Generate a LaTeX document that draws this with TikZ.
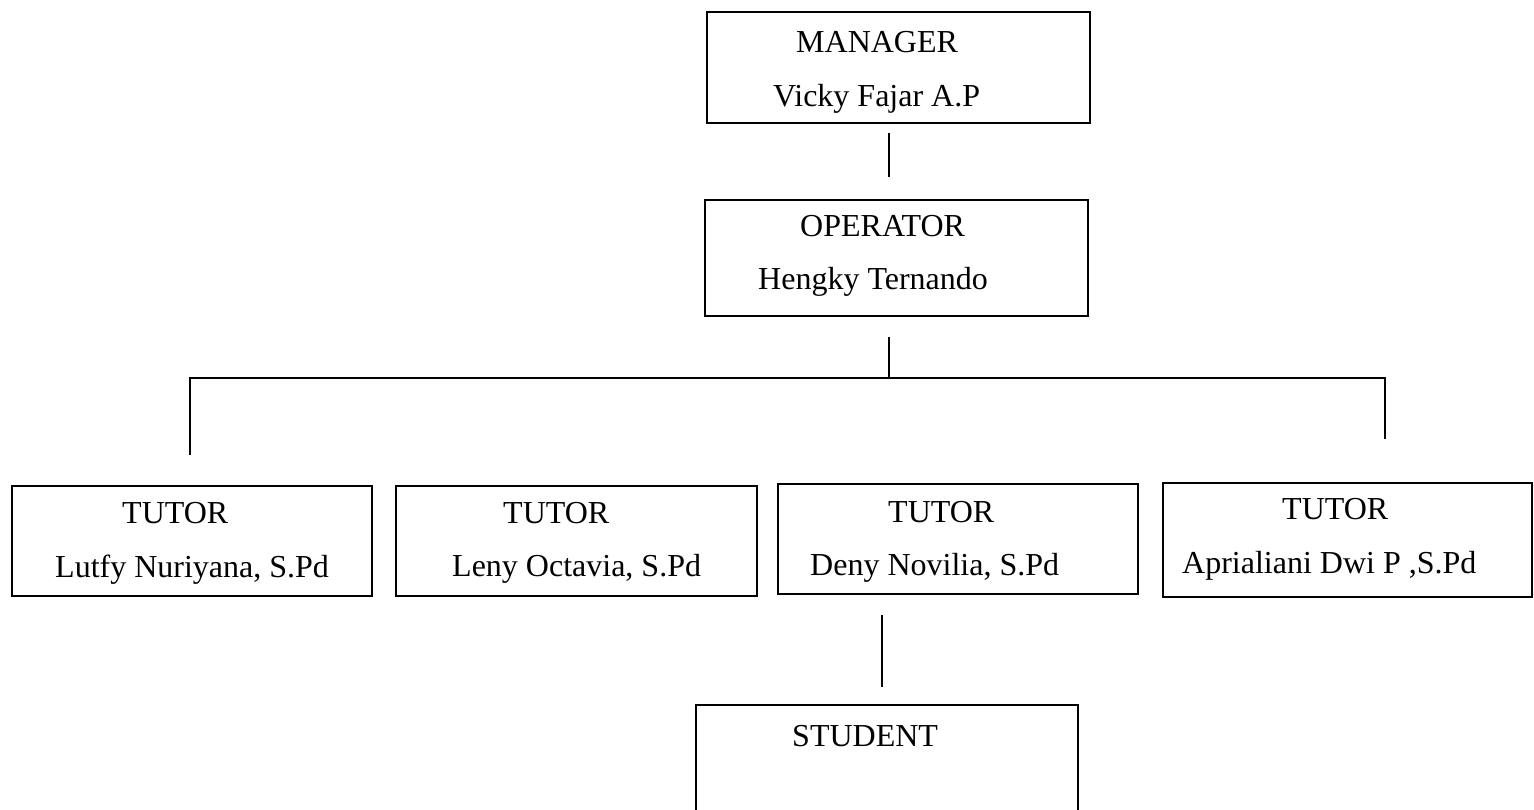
\documentclass[tikz,border=0pt]{standalone}
\usepackage{fontspec}
\setmainfont{Liberation Serif}

\begin{document}
\begin{tikzpicture}[x=1pt,y=-1pt,
	box/.style={draw, line width=1.8pt, inner sep=0pt},
	txt/.style={anchor=base west, inner sep=0pt, font=\fontsize{32}{38}\selectfont},
	conn/.style={line width=1.8pt}]

\clip (0,0) rectangle (1534,810);

% top of the chart
\node[box, minimum width=383pt, minimum height=111pt] (manager) at (898.5,67.5) {};
\node[txt] (manager-role) at (796,53) {MANAGER};
\node[txt] (manager-name) at (773,107) {Vicky Fajar A.P};

\node[box, minimum width=383pt, minimum height=116pt] (operator) at (896.5,258) {};
\node[txt] (operator-role) at (800,237) {OPERATOR};
\node[txt] (operator-name) at (758,290) {Hengky Ternando};

% tutors
\foreach \i/\cx/\cy/\w/\h/\tx/\ty/\nx/\ny/\who in {
	1/192/541/360/110/122/523/55/577/{Lutfy Nuriyana, S.Pd},
	2/576.5/541/361/110/503/523/452/576/{Leny Octavia, S.Pd},
	3/958/539/360/110/888/522/810/575/{Deny Novilia, S.Pd},
	4/1347.5/540/369/114/1282/519/1182/573/{Aprialiani Dwi P ,S.Pd}}{
	\node[box, minimum width=\w pt, minimum height=\h pt] (tutor\i) at (\cx,\cy) {};
	\node[txt] (tutor\i-role) at (\tx,\ty) {TUTOR};
	\node[txt] (tutor\i-name) at (\nx,\ny) {\who};
}

\node[box, minimum width=382pt, minimum height=140pt] (student) at (887,775) {};
\node[txt] (student-role) at (792,746) {STUDENT};

% lines
\coordinate (mgr-stem) at (889,133);
\coordinate (op-top) at (889,177);
\coordinate (op-stem) at (889,337);
\coordinate (bar-mid) at (889,378);
\coordinate (bar-left) at (190,378);
\coordinate (bar-right) at (1385,378);
\coordinate (drop-left) at (190,455);
\coordinate (drop-right) at (1385,439);
\coordinate (tutor-stem) at (882,615);
\coordinate (student-top) at (882,687);

\draw[conn] (mgr-stem) -- (op-top);
\draw[conn] (op-stem) -- (bar-mid);
\draw[conn] (drop-left) -- (bar-left) -- (bar-right) -- (drop-right);
\draw[conn] (tutor-stem) -- (student-top);

\end{tikzpicture}
\end{document}
